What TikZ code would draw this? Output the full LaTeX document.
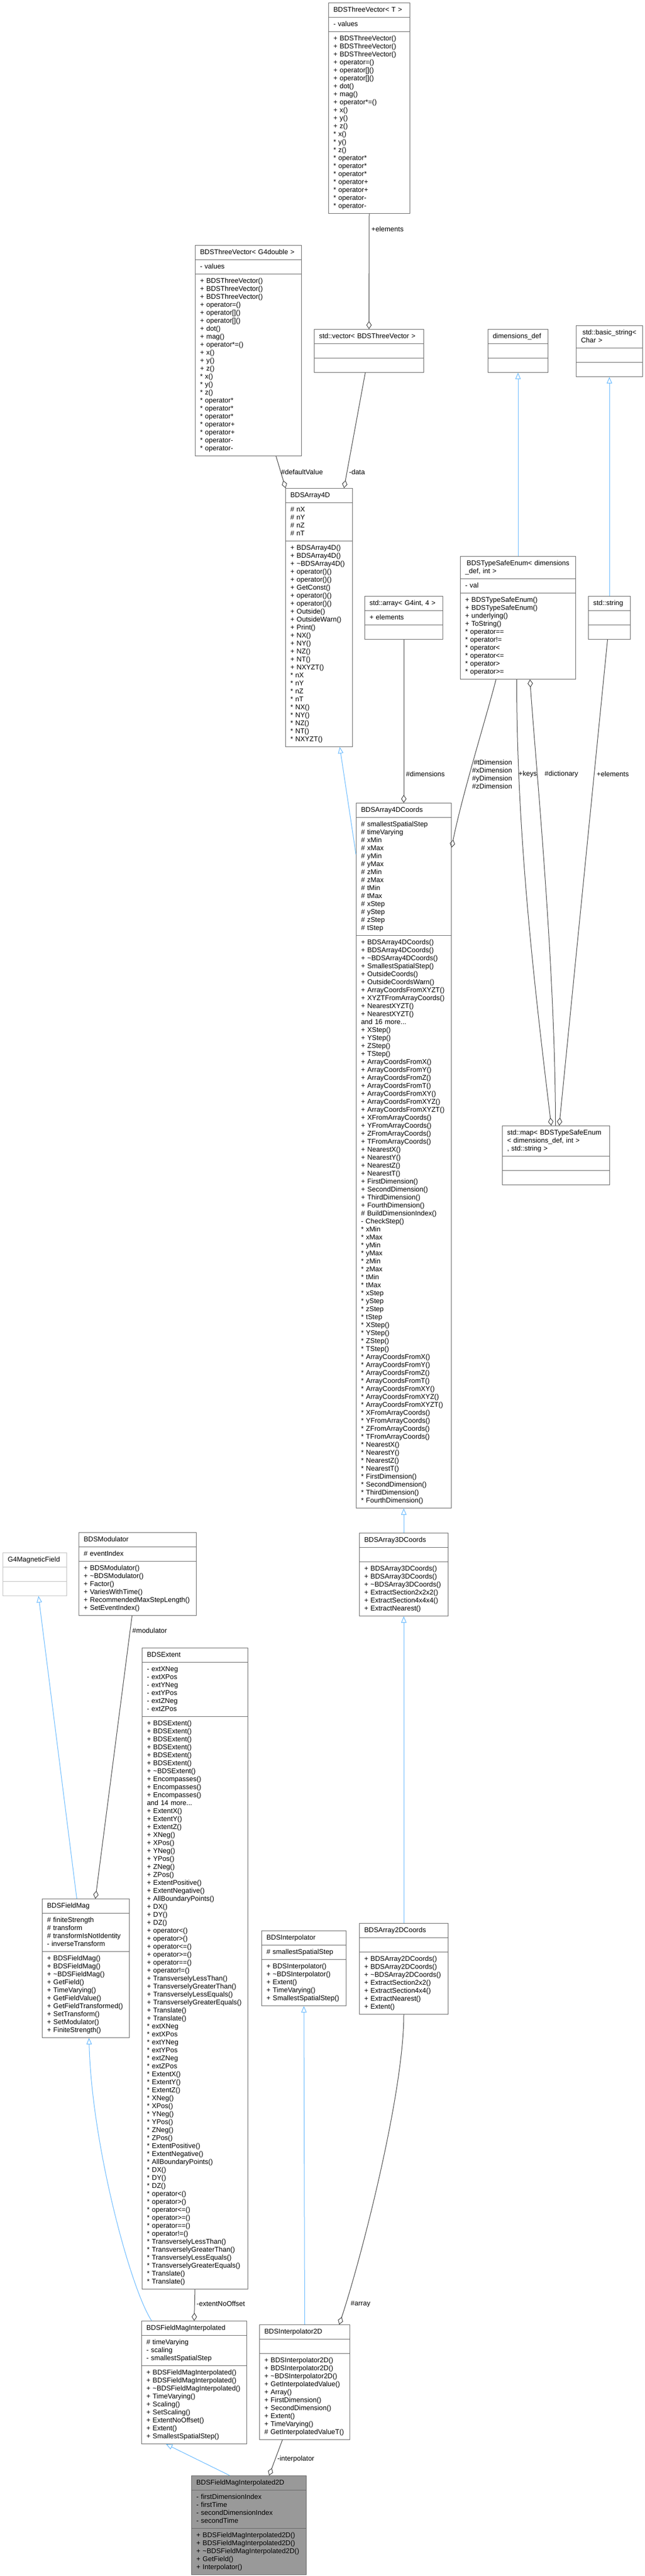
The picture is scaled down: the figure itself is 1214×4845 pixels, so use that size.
\documentclass[tikz,border=0pt]{standalone}
\usepackage{fontspec}
\setmainfont{Liberation Sans}
\usepackage{tikz}
\usetikzlibrary{shapes.multipart,arrows.meta}

\definecolor{frame}{HTML}{666666}
\definecolor{extframe}{HTML}{BFBFBF}
\definecolor{link}{HTML}{404040}
\definecolor{inhblue}{HTML}{63B8FF}
\definecolor{focus}{HTML}{999999}
\newcommand{\dxfont}{\fontsize{13}{15}\selectfont}

\begin{document}
\begin{tikzpicture}[x=1pt,y=-1pt,
    cls/.style={draw=frame, line width=1pt, fill=white, rectangle split, rectangle split parts=3,
        anchor=north west, align=left, inner xsep=9pt, inner ysep=5.5pt, font=\dxfont},
    lbl/.style={inner sep=0pt, font=\dxfont},
    inheritline/.style={draw=inhblue, line width=1pt, -{Triangle[open,length=12pt,width=10pt]}},
    composeline/.style={draw=link, line width=1pt, -{Diamond[open,length=15pt,width=10pt]}}]

    \fill[white] (0,0) rectangle (1214,4845);

    \node[cls, text width=135pt] (threeVecT) at (618,5) {\centering\strut BDSThreeVector< T >\strut
        \nodepart{second}\strut -~values\strut
        \nodepart{third}\strut +~BDSThreeVector()\\ +~BDSThreeVector()\\ +~BDSThreeVector()\\ +~operator=()\\
        +~operator[]()\\ +~operator[]()\\ +~dot()\\ +~mag()\\ +~operator*=()\\ +~x()\\ +~y()\\ +~z()\\{}*~x()\\{}*~y()\\{}*~z()\\
        {}*~operator*\\{}*~operator*\\{}*~operator*\\{}*~operator+\\{}*~operator+\\{}*~operator-\\{}*~operator-\strut};
    \node[cls, text width=182pt] (threeVecD) at (367,461) {\centering\strut BDSThreeVector< G4double >\strut
        \nodepart{second}\strut -~values\strut
        \nodepart{third}\strut +~BDSThreeVector()\\ +~BDSThreeVector()\\ +~BDSThreeVector()\\ +~operator=()\\
        +~operator[]()\\ +~operator[]()\\ +~dot()\\ +~mag()\\ +~operator*=()\\ +~x()\\ +~y()\\ +~z()\\{}*~x()\\{}*~y()\\{}*~z()\\
        {}*~operator*\\{}*~operator*\\{}*~operator*\\{}*~operator+\\{}*~operator+\\{}*~operator-\\{}*~operator-\strut};
    \node[cls, text width=188pt] (stdVector) at (591,619) {\centering\strut std::vector< BDSThreeVector >\strut
        \nodepart{second}\strut\nodepart{third}\strut};
    \node[cls, text width=95pt] (dimsDef) at (918,619) {\centering\strut dimensions\_def\strut
        \nodepart{second}\strut\nodepart{third}\strut};
    \node[cls, text width=107pt] (basicStr) at (1084,612) {\centering\strut std::basic\_string<\\ Char >\strut
        \nodepart{second}\strut\nodepart{third}\strut};

    \node[cls, text width=108pt] (array4D) at (537,918) {\centering\strut BDSArray4D\strut
        \nodepart{second}\strut \#~nX\\ \#~nY\\ \#~nZ\\ \#~nT\strut
        \nodepart{third}\strut +~BDSArray4D()\\ +~BDSArray4D()\\ +~\textasciitilde BDSArray4D()\\ +~operator()()\\
        +~operator()()\\ +~GetConst()\\ +~operator()()\\ +~operator()()\\ +~Outside()\\ +~OutsideWarn()\\ +~Print()\\
        +~NX()\\ +~NY()\\ +~NZ()\\ +~NT()\\ +~NXYZT()\\{}*~nX\\{}*~nY\\{}*~nZ\\{}*~nT\\
        {}*~NX()\\{}*~NY()\\{}*~NZ()\\{}*~NT()\\{}*~NXYZT()\strut};
    \node[cls, text width=129pt] (stdArray) at (686,1121) {\centering\strut std::array< G4int, 4 >\strut
        \nodepart{second}\strut +~elements\strut\nodepart{third}\strut};
    \node[cls, text width=199pt] (typeSafeEnum) at (866,1046) {\centering\strut BDSTypeSafeEnum<~dimensions\\\_def, int >\strut
        \nodepart{second}\strut -~val\strut
        \nodepart{third}\strut +~BDSTypeSafeEnum()\\ +~BDSTypeSafeEnum()\\ +~underlying()\\ +~ToString()\\
        {}*~operator==\\{}*~operator!=\\{}*~operator<\\{}*~operator<=\\{}*~operator>\\{}*~operator>=\strut};
    \node[cls, text width=61pt] (stdString) at (1107,1121) {\centering\strut std::string\strut
        \nodepart{second}\strut\nodepart{third}\strut};

    \node[cls, text width=161pt] (array4DCoords) at (670,1510) {\centering\strut BDSArray4DCoords\strut
        \nodepart{second}\strut \#~smallestSpatialStep\\ \#~timeVarying\\ \#~xMin\\ \#~xMax\\ \#~yMin\\ \#~yMax\\
        \#~zMin\\ \#~zMax\\ \#~tMin\\ \#~tMax\\ \#~xStep\\ \#~yStep\\ \#~zStep\\ \#~tStep\strut
        \nodepart{third}\strut +~BDSArray4DCoords()\\ +~BDSArray4DCoords()\\ +~\textasciitilde BDSArray4DCoords()\\
        +~SmallestSpatialStep()\\ +~OutsideCoords()\\ +~OutsideCoordsWarn()\\ +~ArrayCoordsFromXYZT()\\
        +~XYZTFromArrayCoords()\\ +~NearestXYZT()\\ +~NearestXYZT()\\ and~16~more...\\
        +~XStep()\\ +~YStep()\\ +~ZStep()\\ +~TStep()\\ +~ArrayCoordsFromX()\\ +~ArrayCoordsFromY()\\
        +~ArrayCoordsFromZ()\\ +~ArrayCoordsFromT()\\ +~ArrayCoordsFromXY()\\ +~ArrayCoordsFromXYZ()\\
        +~ArrayCoordsFromXYZT()\\ +~XFromArrayCoords()\\ +~YFromArrayCoords()\\ +~ZFromArrayCoords()\\
        +~TFromArrayCoords()\\ +~NearestX()\\ +~NearestY()\\ +~NearestZ()\\ +~NearestT()\\ +~FirstDimension()\\
        +~SecondDimension()\\ +~ThirdDimension()\\ +~FourthDimension()\\ \#~BuildDimensionIndex()\\ -~CheckStep()\\
        {}*~xMin\\{}*~xMax\\{}*~yMin\\{}*~yMax\\{}*~zMin\\{}*~zMax\\{}*~tMin\\{}*~tMax\\
        {}*~xStep\\{}*~yStep\\{}*~zStep\\{}*~tStep\\{}*~XStep()\\{}*~YStep()\\{}*~ZStep()\\{}*~TStep()\\
        {}*~ArrayCoordsFromX()\\{}*~ArrayCoordsFromY()\\{}*~ArrayCoordsFromZ()\\{}*~ArrayCoordsFromT()\\
        {}*~ArrayCoordsFromXY()\\{}*~ArrayCoordsFromXYZ()\\{}*~ArrayCoordsFromXYZT()\\{}*~XFromArrayCoords()\\
        {}*~YFromArrayCoords()\\{}*~ZFromArrayCoords()\\{}*~TFromArrayCoords()\\{}*~NearestX()\\{}*~NearestY()\\
        {}*~NearestZ()\\{}*~NearestT()\\{}*~FirstDimension()\\{}*~SecondDimension()\\{}*~ThirdDimension()\\
        {}*~FourthDimension()\strut};
    \node[cls, text width=184pt] (stdMap) at (945,2117) {\strut std::map<~BDSTypeSafeEnum\\ <~dimensions\_def, int~>\par
        \centering , std::string~>\strut
        \nodepart{second}\strut\nodepart{third}\strut};

    \node[cls, draw=extframe, text width=102pt] (g4Field) at (5,2920) {\centering\strut G4MagneticField\strut
        \nodepart{second}\strut\nodepart{third}\strut};
    \node[cls, text width=203pt] (modulator) at (148,2882) {\centering\strut BDSModulator\strut
        \nodepart{second}\strut \#~eventIndex\strut
        \nodepart{third}\strut +~BDSModulator()\\ +~\textasciitilde BDSModulator()\\ +~Factor()\\ +~VariesWithTime()\\
        +~RecommendedMaxStepLength()\\ +~SetEventIndex()\strut};
    \node[cls, text width=149pt] (array3DCoords) at (676,2883) {\centering\strut BDSArray3DCoords\strut
        \nodepart{second}\strut
        \nodepart{third}\strut +~BDSArray3DCoords()\\ +~BDSArray3DCoords()\\ +~\textasciitilde BDSArray3DCoords()\\
        +~ExtractSection2x2x2()\\ +~ExtractSection4x4x4()\\ +~ExtractNearest()\strut};

    \node[cls, text width=181pt] (extent) at (267,3099) {\centering\strut BDSExtent\strut
        \nodepart{second}\strut -~extXNeg\\ -~extXPos\\ -~extYNeg\\ -~extYPos\\ -~extZNeg\\ -~extZPos\strut
        \nodepart{third}\strut +~BDSExtent()\\ +~BDSExtent()\\ +~BDSExtent()\\ +~BDSExtent()\\ +~BDSExtent()\\
        +~BDSExtent()\\ +~\textasciitilde BDSExtent()\\ +~Encompasses()\\ +~Encompasses()\\ +~Encompasses()\\
        and~14~more...\\ +~ExtentX()\\ +~ExtentY()\\ +~ExtentZ()\\ +~XNeg()\\ +~XPos()\\ +~YNeg()\\ +~YPos()\\
        +~ZNeg()\\ +~ZPos()\\ +~ExtentPositive()\\ +~ExtentNegative()\\ +~AllBoundaryPoints()\\ +~DX()\\ +~DY()\\
        +~DZ()\\ +~operator<()\\ +~operator>()\\ +~operator<=()\\ +~operator>=()\\ +~operator==()\\ +~operator!=()\\
        +~TransverselyLessThan()\\ +~TransverselyGreaterThan()\\ +~TransverselyLessEquals()\\
        +~TransverselyGreaterEquals()\\ +~Translate()\\ +~Translate()\\
        {}*~extXNeg\\{}*~extXPos\\{}*~extYNeg\\{}*~extYPos\\{}*~extZNeg\\{}*~extZPos\\
        {}*~ExtentX()\\{}*~ExtentY()\\{}*~ExtentZ()\\{}*~XNeg()\\{}*~XPos()\\{}*~YNeg()\\{}*~YPos()\\{}*~ZNeg()\\
        {}*~ZPos()\\{}*~ExtentPositive()\\{}*~ExtentNegative()\\{}*~AllBoundaryPoints()\\{}*~DX()\\{}*~DY()\\
        {}*~DZ()\\{}*~operator<()\\{}*~operator>()\\{}*~operator<=()\\{}*~operator>=()\\{}*~operator==()\\
        {}*~operator!=()\\{}*~TransverselyLessThan()\\{}*~TransverselyGreaterThan()\\
        {}*~TransverselyLessEquals()\\{}*~TransverselyGreaterEquals()\\{}*~Translate()\\{}*~Translate()\strut};
    \node[cls, text width=146pt] (fieldMag) at (79,3571) {\centering\strut BDSFieldMag\strut
        \nodepart{second}\strut \#~finiteStrength\\ \#~transform\\ \#~transformIsNotIdentity\\ -~inverseTransform\strut
        \nodepart{third}\strut +~BDSFieldMag()\\ +~BDSFieldMag()\\ +~\textasciitilde BDSFieldMag()\\ +~GetField()\\
        +~TimeVarying()\\ +~GetFieldValue()\\ +~GetFieldTransformed()\\ +~SetTransform()\\ +~SetModulator()\\
        +~FiniteStrength()\strut};
    \node[cls, text width=141pt] (interpolator) at (492,3631) {\centering\strut BDSInterpolator\strut
        \nodepart{second}\strut \#~smallestSpatialStep\strut
        \nodepart{third}\strut +~BDSInterpolator()\\ +~\textasciitilde BDSInterpolator()\\ +~Extent()\\ +~TimeVarying()\\
        +~SmallestSpatialStep()\strut};
    \node[cls, text width=149pt] (array2DCoords) at (676,3617) {\centering\strut BDSArray2DCoords\strut
        \nodepart{second}\strut
        \nodepart{third}\strut +~BDSArray2DCoords()\\ +~BDSArray2DCoords()\\ +~\textasciitilde BDSArray2DCoords()\\
        +~ExtractSection2x2()\\ +~ExtractSection4x4()\\ +~ExtractNearest()\\ +~Extent()\strut};

    \node[cls, text width=180pt] (fieldMagInterp) at (266,4365) {\centering\strut BDSFieldMagInterpolated\strut
        \nodepart{second}\strut \#~timeVarying\\ -~scaling\\ -~smallestSpatialStep\strut
        \nodepart{third}\strut +~BDSFieldMagInterpolated()\\ +~BDSFieldMagInterpolated()\\
        +~\textasciitilde BDSFieldMagInterpolated()\\ +~TimeVarying()\\ +~Scaling()\\ +~SetScaling()\\
        +~ExtentNoOffset()\\ +~Extent()\\ +~SmallestSpatialStep()\strut};
    \node[cls, text width=152pt] (interp2D) at (488,4372) {\centering\strut BDSInterpolator2D\strut
        \nodepart{second}\strut
        \nodepart{third}\strut +~BDSInterpolator2D()\\ +~BDSInterpolator2D()\\ +~\textasciitilde BDSInterpolator2D()\\
        +~GetInterpolatedValue()\\ +~Array()\\ +~FirstDimension()\\ +~SecondDimension()\\ +~Extent()\\
        +~TimeVarying()\\ \#~GetInterpolatedValueT()\strut};
    \node[cls, fill=focus, text width=198pt] (fieldMagInterp2D) at (360,4656) {\centering\strut BDSFieldMagInterpolated2D\strut
        \nodepart{second}\strut -~firstDimensionIndex\\ -~firstTime\\ -~secondDimensionIndex\\ -~secondTime\strut
        \nodepart{third}\strut +~BDSFieldMagInterpolated2D()\\ +~BDSFieldMagInterpolated2D()\\
        +~\textasciitilde BDSFieldMagInterpolated2D()\\ +~GetField()\\ +~Interpolator()\strut};

    \draw[composeline] (threeVecT.south) -- (stdVector.north);
    \draw[composeline] ([xshift=52pt]threeVecD.south) -- ([xshift=-63pt]array4D.north);
    \draw[composeline] ([xshift=-7pt]stdVector.south) -- ([xshift=47pt]array4D.north);
    \draw[inheritline] (typeSafeEnum.north) -- (dimsDef.south);
    \draw[inheritline] (stdString.north) -- (basicStr.south);
    \draw[inheritline] ([yshift=-97pt]array4DCoords.north west) -- ([xshift=39pt]array4D.south);
    \draw[composeline] (stdArray.south) -- (array4DCoords.north);
    \draw[composeline] ([xshift=-41.5pt]typeSafeEnum.south) .. controls +(-15,60) and +(20,-100) .. ([yshift=-84pt]array4DCoords.north east);
    \draw[composeline] ([xshift=-2.5pt]typeSafeEnum.south) .. controls +(0,300) and +(-30,-250) .. ([xshift=-9pt]stdMap.north);
    \draw[composeline] ([xshift=-1pt]stdMap.north) .. controls +(0,-300) and +(10,150) .. ([xshift=22.5pt]typeSafeEnum.south);
    \draw[composeline] ([xshift=-3.5pt]stdString.south) -- ([xshift=6pt]stdMap.north);
    \draw[inheritline] (array3DCoords.north) -- (array4DCoords.south);
    \draw[inheritline] (array2DCoords.north) -- (array3DCoords.south);
    \draw[inheritline] ([xshift=-17pt]fieldMag.north) -- ([xshift=7pt]g4Field.south);
    \draw[composeline] ([xshift=-10.5pt]modulator.south) -- ([xshift=18pt]fieldMag.north);
    \draw[composeline] (extent.south) -- (fieldMagInterp.north);
    \draw[inheritline] ([xshift=-80pt]fieldMagInterp.north) .. controls +(-40,-60) and +(5,200) .. ([xshift=6pt]fieldMag.south);
    \draw[inheritline] (interp2D.north) -- (interpolator.south);
    \draw[composeline] (array2DCoords.south) .. controls +(0,150) and +(40,-120) .. ([xshift=65pt]interp2D.north);
    \draw[inheritline] ([xshift=-36pt]fieldMagInterp2D.north) -- ([xshift=-53pt]fieldMagInterp.south);
    \draw[composeline] ([xshift=-42pt]interp2D.south) -- ([xshift=38pt]fieldMagInterp2D.north);

    \node[lbl, anchor=west] (labElements) at (699,431) {+elements};
    \node[lbl, anchor=west] (labDefault) at (529,888) {\#defaultValue};
    \node[lbl, anchor=west] (labData) at (657,888) {-data};
    \node[lbl, anchor=west] (labDimensions) at (764,1456) {\#dimensions};
    \node[lbl, anchor=east, align=right] (labAxes) at (964,1456) {\#tDimension\\\#xDimension\\\#yDimension\\\#zDimension};
    \node[lbl, anchor=west] (labKeys) at (976,1456) {+keys};
    \node[lbl, anchor=west] (labDictionary) at (1025,1456) {\#dictionary};
    \node[lbl, anchor=west] (labMapElements) at (1123,1456) {+elements};
    \node[lbl, anchor=west] (labModulator) at (249,3067) {\#modulator};
    \node[lbl, anchor=west] (labNoOffset) at (370,4333) {-extentNoOffset};
    \node[lbl, anchor=west] (labArray) at (660,4333) {\#array};
    \node[lbl, anchor=west] (labInterpolator) at (522,4625) {-interpolator};
\end{tikzpicture}
\end{document}
